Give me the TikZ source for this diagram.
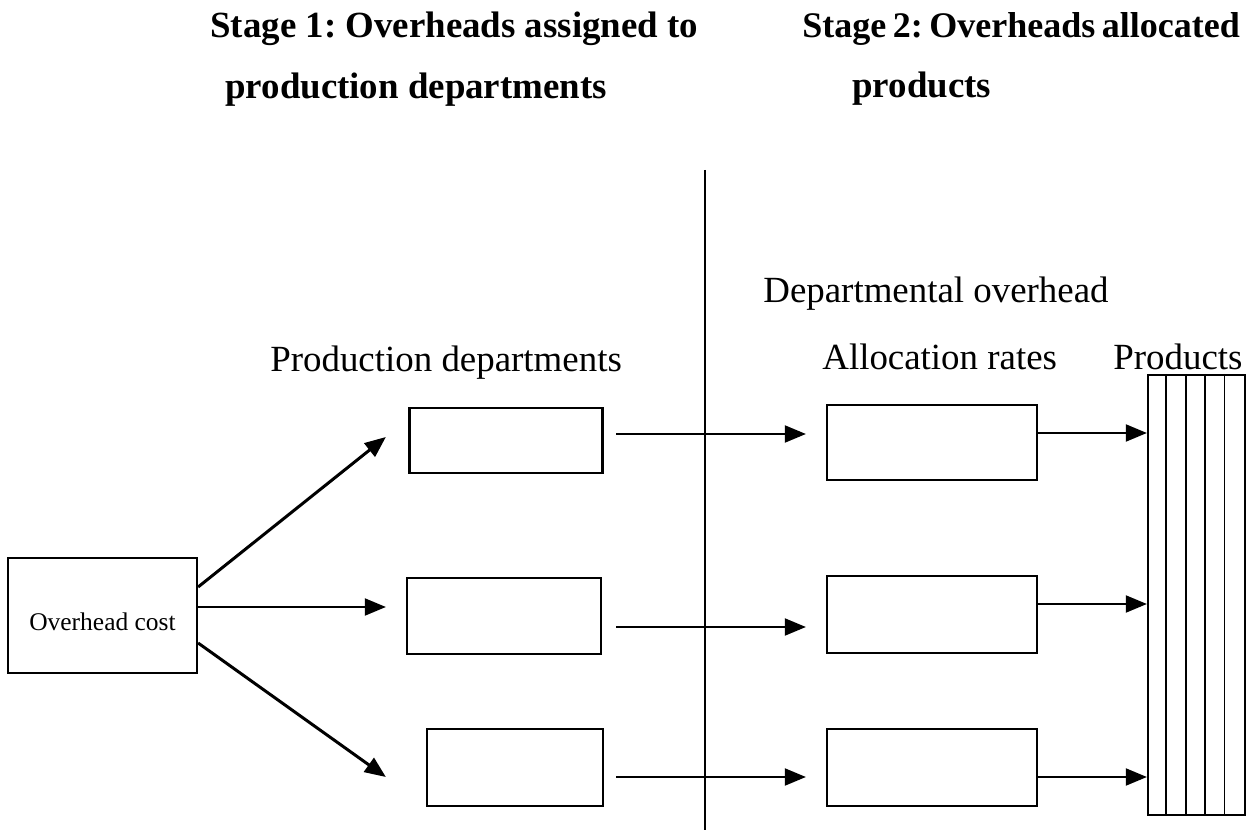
\documentclass[tikz,border=0pt]{standalone}
\usepackage{fontspec}
\setmainfont{Liberation Serif}
\usetikzlibrary{arrows.meta}
\frenchspacing
\tikzset{
  box/.style={draw=black, line width=1.3pt, inner sep=0pt},
  arr/.style={line width=1.1pt, -{Triangle[length=0.42cm,width=0.34cm]}},
  arr-thick/.style={arr, line width=1.7pt},
  stagetitle/.style={anchor=base west, inner sep=0pt, font=\fontsize{21}{25}\selectfont\bfseries},
  coltext/.style={anchor=base west, inner sep=0pt, font=\fontsize{21}{25}\selectfont},
  divider/.style={line width=1.1pt}
}

\begin{document}
\begin{tikzpicture}[x=0.02cm, y=-0.02cm]
  \useasboundingbox (0,0) rectangle (1250,837);
  % Headings
  \node[stagetitle] (s1a) at (210,38) {Stage 1: Overheads assigned to};
  \node[stagetitle] (s1b) at (225,99) {production departments};
  \node[stagetitle, font=\fontsize{20.5}{25}\selectfont\bfseries] (s2a) at (802,38)
    {\spaceskip=0.18em\relax Stage 2: Overheads allocated};
  \node[stagetitle] (s2b) at (852,98) {products};
  \draw[divider] (705,170) -- (705,830);
  % Column labels
  \node[coltext] (tdep) at (763,303) {Departmental overhead};
  \node[coltext] (tprd) at (270,372) {Production departments};
  \node[coltext] (trat) at (822,370) {Allocation rates};
  \node[coltext] (tpro) at (1113,370) {Products};
  % Boxes
  \node[box, minimum width=3.78cm, minimum height=2.3cm, text height=0.62cm,
        font=\fontsize{14.5}{17}\selectfont] (o) at (102.5,615.5) {Overhead cost};
  \node[box, minimum width=3.86cm, minimum height=1.3cm] (p1) at (506,440.5) {};
  \node[box, minimum width=3.88cm, minimum height=1.52cm] (p2) at (504,616) {};
  \node[box, minimum width=3.52cm, minimum height=1.54cm] (p3) at (515,767.5) {};
  \node[box, minimum width=4.2cm, minimum height=1.5cm] (a1) at (932,442.5) {};
  \node[box, minimum width=4.2cm, minimum height=1.54cm] (a2) at (932,614.5) {};
  \node[box, minimum width=4.2cm, minimum height=1.54cm] (a3) at (932,767.5) {};
  \node[box, minimum width=1.94cm, minimum height=8.8cm] (prod) at (1196.5,595) {};
  \foreach \i in {1,...,4} {
    \draw[line width=1.1pt] ([xshift=\i*0.388cm]prod.north west) -- ([xshift=\i*0.388cm]prod.south west);
  }
  % Stage 1 arrows
  \draw[arr-thick] ([shift={(0,-28.5)}]o.east) -- ([shift={(-22.5,-3.5)}]p1.west);
  \draw[arr] ([shift={(0,-8.5)}]o.east) -- ([shift={(-20,-9)}]p2.west);
  \draw[arr-thick] ([shift={(0,27.5)}]o.east) -- ([shift={(-40,9.5)}]p3.west);
  % Stage 2 arrows
  \draw[arr] ([shift={(12.5,-6.5)}]p1.east) -- ([shift={(-20,-8.5)}]a1.west);
  \draw[arr] ([shift={(14,11)}]p2.east) -- ([shift={(-20,12.5)}]a2.west);
  \draw[arr] ([shift={(12,9.5)}]p3.east) -- ([shift={(-20,9.5)}]a3.west);
  \draw[arr] ([shift={(0,-9.5)}]a1.east) coordinate (r1) -- (r1 -| prod.west);
  \draw[arr] ([shift={(0,-10.5)}]a2.east) coordinate (r2) -- (r2 -| prod.west);
  \draw[arr] ([shift={(0,9.5)}]a3.east) coordinate (r3) -- (r3 -| prod.west);
\end{tikzpicture}
\end{document}
